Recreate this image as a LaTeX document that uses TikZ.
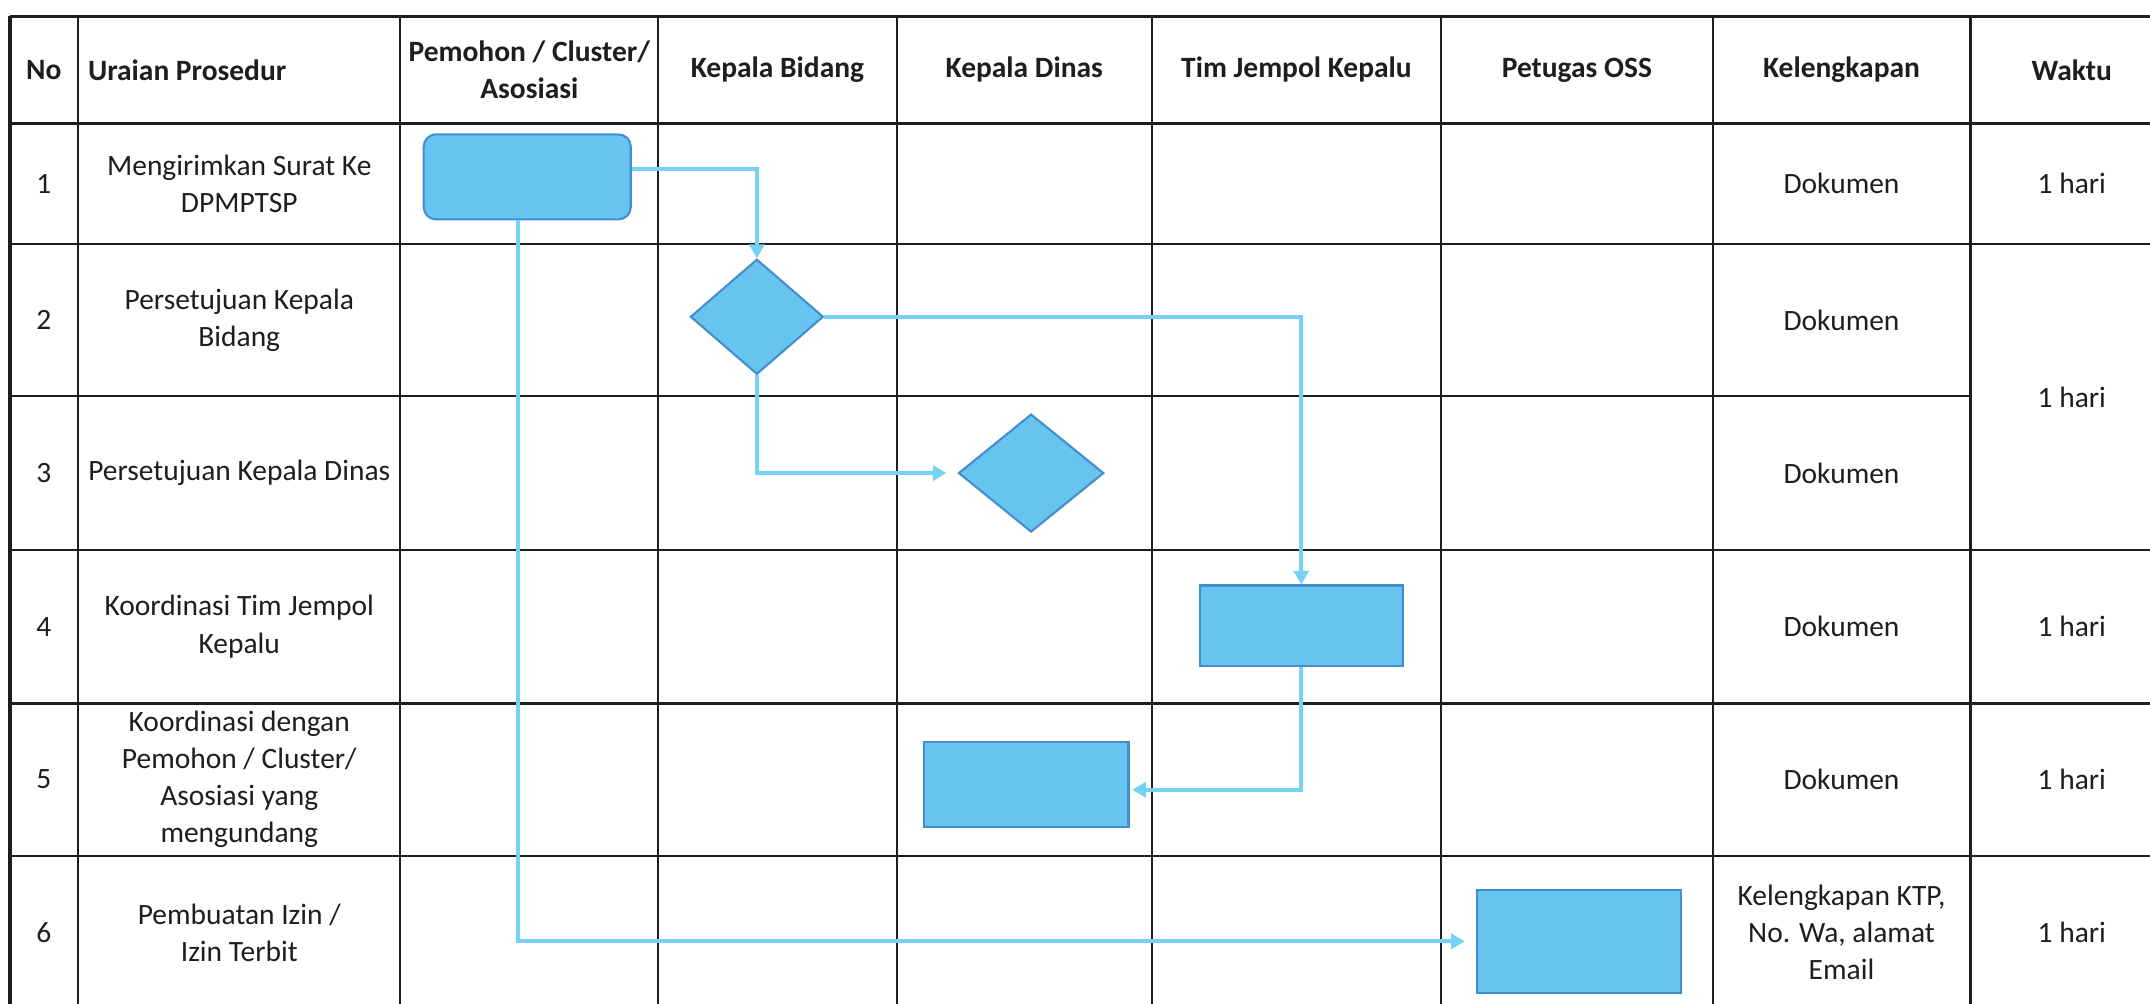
\documentclass[tikz,border=0pt]{standalone}
\usepackage{fontspec}
\setmainfont{Carlito}
\usetikzlibrary{arrows.meta,shapes.geometric,calc}
\definecolor{nodefill}{RGB}{102,196,238}
\definecolor{nodeedge}{RGB}{66,140,208}
\definecolor{flow}{RGB}{118,210,242}
\definecolor{ink}{RGB}{30,30,30}
\begin{document}
\begin{tikzpicture}[x=1pt,y=-1pt,
  gridline/.style={line width=1.6pt,draw=ink},
  txt/.style={font=\fontsize{21.5}{27}\selectfont,align=center,inner sep=0pt,text=ink},
  hdr/.style={font=\fontsize{21.5}{27}\selectfont\bfseries,align=center,inner sep=0pt,text=ink},
  procbox/.style={draw=nodeedge,fill=nodefill,line width=1.5pt,inner sep=0pt},
  decbox/.style={diamond,draw=nodeedge,fill=nodefill,line width=1.5pt,inner sep=0pt},
  flowline/.style={draw=flow,line width=3pt,-{Triangle[length=10pt,width=11pt]}}
]
\useasboundingbox (0,0) rectangle (1568,732);
\clip (0,0) rectangle (1568,732);
\fill[white] (0,0) rectangle (1568,732);

% grid
\foreach \yy in {12,90,178,401,513,624,736}
  \draw[gridline] (7,\yy) -- (1585,\yy);
\draw[gridline] (7,289) -- (1437,289);
\foreach \xx in {57,292,480,654,840,1051,1249,1437,1585}
  \draw[gridline] (\xx,12) -- (\xx,736);
\draw[line width=3pt,draw=ink] (7,12) -- (7,736);
\draw[line width=2.2pt,draw=ink] (7,12) -- (1585,12);

% header
\node[hdr] (hNo) at (32,51) {No};
\node[hdr,anchor=west] (hUr) at (64,51) {Uraian Prosedur};
\node[hdr] (hPm) at (386,51) {Pemohon / Cluster/\\Asosiasi};
\node[hdr] (hKB) at (567,51) {Kepala Bidang};
\node[hdr] (hKD) at (747,51) {Kepala Dinas};
\node[hdr] (hTJ) at (945.5,51) {Tim Jempol Kepalu};
\node[hdr] (hPO) at (1150,51) {Petugas OSS};
\node[hdr] (hKl) at (1343,51) {Kelengkapan};
\node[hdr] (hWk) at (1511,51) {Waktu};

% numbers
\node[txt] (n1) at (32,134) {1};
\node[txt] (n2) at (32,233.5) {2};
\node[txt] (n3) at (32,345) {3};
\node[txt] (n4) at (32,457) {4};
\node[txt] (n5) at (32,568.5) {5};
\node[txt] (n6) at (32,680) {6};

% procedures
\node[txt] (u1) at (174.5,134) {Mengirimkan Surat Ke\\DPMPTSP};
\node[txt] (u2) at (174.5,233.5) {Persetujuan Kepala\\Bidang};
\node[txt] (u3) at (174.5,345) {Persetujuan Kepala Dinas};
\node[txt] (u4) at (174.5,457) {Koordinasi Tim Jempol\\Kepalu};
\node[txt] (u5) at (174.5,568.5) {Koordinasi dengan\\Pemohon / Cluster/\\Asosiasi yang\\mengundang};
\node[txt] (u6) at (174.5,680) {Pembuatan Izin /\\Izin Terbit};

% kelengkapan
\node[txt] (k1) at (1343,134) {Dokumen};
\node[txt] (k2) at (1343,233.5) {Dokumen};
\node[txt] (k3) at (1343,345) {Dokumen};
\node[txt] (k4) at (1343,457) {Dokumen};
\node[txt] (k5) at (1343,568.5) {Dokumen};
\node[txt] (k6) at (1343,680) {Kelengkapan KTP,\\No. Wa, alamat\\Email};

% waktu
\node[txt] (w1) at (1511,134) {1 hari};
\node[txt] (w23) at (1511,289.5) {1 hari};
\node[txt] (w4) at (1511,457) {1 hari};
\node[txt] (w5) at (1511,568.5) {1 hari};
\node[txt] (w6) at (1511,680) {1 hari};

% flow shapes
\node[procbox,rounded corners=9pt,minimum width=151pt,minimum height=62pt] (A) at (384.5,129) {};
\node[decbox,minimum width=97pt,minimum height=84pt] (B) at (552,231) {};
\node[decbox,minimum width=106pt,minimum height=86pt] (C) at (752,345) {};
\node[procbox,minimum width=148pt,minimum height=59pt] (D) at (949,456.5) {};
\node[procbox,minimum width=149pt,minimum height=62pt] (E) at (748.5,572) {};
\node[procbox,minimum width=149pt,minimum height=75pt] (F) at (1151.5,686.5) {};

% connectors
\draw[flowline] ([yshift=6pt]A.east) -| (B.north);
\draw[flowline,shorten >=8pt] ([xshift=-7pt]A.south) |- (F.west);
\draw[flowline] (B.east) -| (D.north);
\draw[flowline,shorten >=8pt] (B.south) |- (C.west);
\draw[flowline,shorten >=2pt] (D.south) |- ([yshift=-4pt]E.east);
\end{tikzpicture}
\end{document}
